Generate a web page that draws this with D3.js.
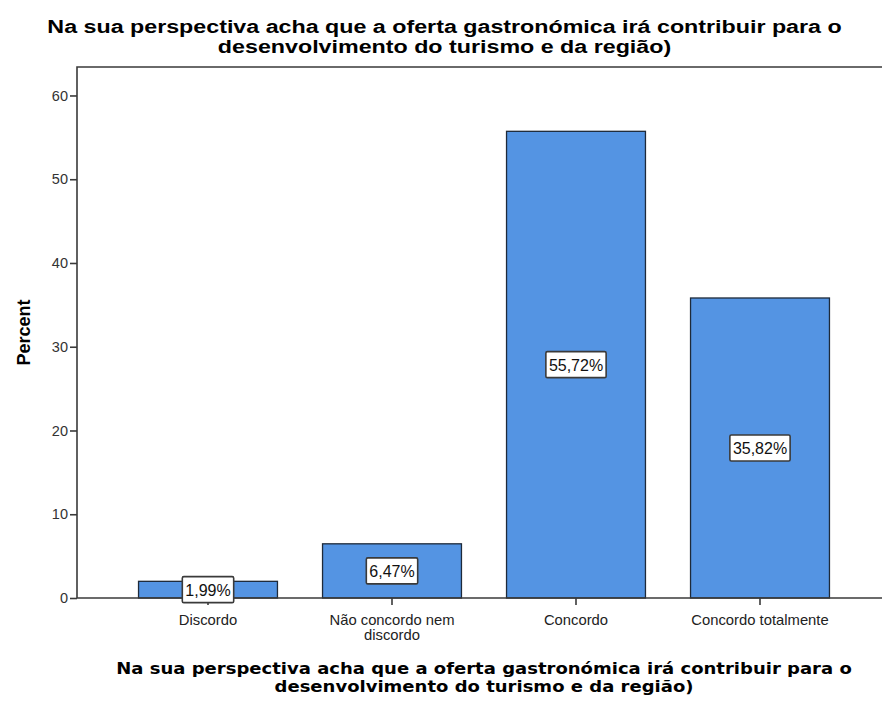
<!DOCTYPE html>
<html>
<head>
<meta charset="utf-8">
<script src="https://cdn.jsdelivr.net/npm/d3@7"></script>
<style>
  html, body { margin: 0; padding: 0; background: #fff; }
  svg { display: block; }
</style>
</head>
<body>
<svg id="chart" width="882" height="702"></svg>
<script>
// Response categories and their share of respondents (%)
const categories = ["Discordo", "Não concordo nem discordo", "Concordo", "Concordo totalmente"];
const categoryLines = [["Discordo"], ["Não concordo nem", "discordo"], ["Concordo"], ["Concordo totalmente"]];
const percents = [1.99, 6.47, 55.72, 35.82];
const yTicks = [0, 10, 20, 30, 40, 50, 60];
const titleLines = [
  "Na sua perspectiva acha que a oferta gastronómica irá contribuir para o",
  "desenvolvimento do turismo e da região)"
];
const yTitle = "Percent";

const svg = d3.select("#chart");
const plot = { left: 77, top: 67, right: 884, bottom: 598 };

const x = d3.scaleBand()
  .domain(categories)
  .range([116, 852])
  .paddingInner(0.245)
  .paddingOuter(0.1225);

const y = d3.scaleLinear()
  .domain([0, 63.4])
  .range([plot.bottom, plot.top]);

const axisColor = "#3a3a3a";
const fontFamily = "'Liberation Sans', Arial, sans-serif";

// Two-line heading, widened horizontally so its first line spans `width`
function heading(cx, baseline, lineGap, family, size, width) {
  const g = svg.append("g");
  const inner = g.append("g");
  inner.selectAll("text")
    .data(titleLines)
    .join("text")
    .attr("x", 0)
    .attr("y", (d, i) => i * lineGap)
    .attr("text-anchor", "middle")
    .attr("font-family", family)
    .attr("font-weight", "bold")
    .attr("font-size", size)
    .attr("fill", "#000")
    .text(d => d);
  const w = inner.select("text").node().getComputedTextLength();
  const sx = width / w;
  g.attr("transform", `translate(${cx},${baseline}) scale(${sx},1)`);
}

// Chart title
heading(444.5, 33, 20, fontFamily, 19, 795);

// Plot frame (top and left edges)
svg.append("path")
  .attr("d", `M${plot.left},${plot.bottom}V${plot.top}H${plot.right}`)
  .attr("fill", "none")
  .attr("stroke", axisColor)
  .attr("stroke-width", 1.6);

// Bars
svg.append("g")
  .selectAll("rect")
  .data(percents)
  .join("rect")
  .attr("x", (d, i) => x(categories[i]))
  .attr("y", d => y(d))
  .attr("width", x.bandwidth())
  .attr("height", d => y(0) - y(d))
  .attr("fill", "#5494e3")
  .attr("stroke", "#1e2a3a")
  .attr("stroke-width", 1.3);

// Y axis
const yAxis = svg.append("g")
  .attr("transform", `translate(${plot.left},0)`)
  .call(d3.axisLeft(y).tickValues(yTicks).tickSize(7).tickPadding(2).tickFormat(d3.format("d")));
yAxis.select(".domain").remove();
yAxis.selectAll(".tick line").attr("stroke", axisColor).attr("stroke-width", 1.6);
yAxis.selectAll(".tick text")
  .attr("font-family", fontFamily)
  .attr("font-size", 14.5)
  .attr("fill", "#333");

// X axis baseline and ticks
svg.append("line")
  .attr("x1", plot.left).attr("x2", plot.right)
  .attr("y1", plot.bottom).attr("y2", plot.bottom)
  .attr("stroke", axisColor)
  .attr("stroke-width", 1.6);

const xAxis = svg.append("g")
  .attr("transform", `translate(0,${plot.bottom})`)
  .call(d3.axisBottom(x).tickSize(7).tickFormat(""));
xAxis.select(".domain").remove();
xAxis.selectAll(".tick line").attr("stroke", axisColor).attr("stroke-width", 1.6);

// Category labels, one text element per wrapped line
const catRows = categories.flatMap((c, i) =>
  categoryLines[i].map((line, j) => ({ cat: c, line, row: j })));
svg.append("g")
  .selectAll("text")
  .data(catRows)
  .join("text")
  .attr("x", d => x(d.cat) + x.bandwidth() / 2)
  .attr("y", d => 625 + d.row * 14.5)
  .attr("text-anchor", "middle")
  .attr("font-family", fontFamily)
  .attr("font-size", 14.8)
  .attr("fill", "#222")
  .text(d => d.line);

// Value labels in white boxes at bar mid-height
const labels = svg.append("g")
  .selectAll("g")
  .data(percents)
  .join("g")
  .attr("transform", (d, i) => `translate(${x(categories[i]) + x.bandwidth() / 2},${y(d / 2)})`);

labels.append("text")
  .attr("text-anchor", "middle")
  .attr("dy", "0.37em")
  .attr("font-family", fontFamily)
  .attr("font-size", 16)
  .attr("fill", "#111")
  .text(d => d3.format(".2f")(d).replace(".", ",") + "%");

labels.each(function () {
  const g = d3.select(this);
  const bb = g.select("text").node().getBBox();
  g.insert("rect", "text")
    .attr("x", bb.x - 3)
    .attr("y", -13)
    .attr("width", bb.width + 6)
    .attr("height", 26)
    .attr("rx", 1.5)
    .attr("fill", "#fff")
    .attr("stroke", "#3a3a3a")
    .attr("stroke-width", 1.6);
});

// Y axis title
svg.append("text")
  .attr("transform", `translate(30,${(plot.top + plot.bottom) / 2}) rotate(-90)`)
  .attr("text-anchor", "middle")
  .attr("font-family", fontFamily)
  .attr("font-weight", "bold")
  .attr("font-size", 18)
  .attr("fill", "#000")
  .text(yTitle);

// X axis title
heading(484, 674, 18, "'DejaVu Sans', Verdana, sans-serif", 16.5, 736);
</script>
</body>
</html>
